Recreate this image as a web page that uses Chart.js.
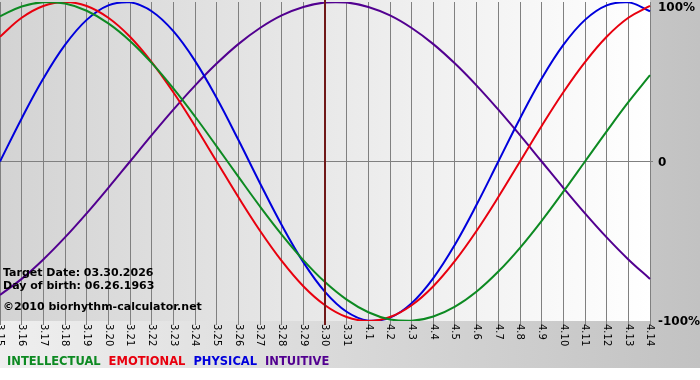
<!DOCTYPE html>
<html>
<head>
<meta charset="utf-8">
<script src="https://cdn.jsdelivr.net/npm/chart.js@4/dist/chart.umd.min.js"></script>
<style>
  body { margin: 0; background: #fff; }
  canvas { display: block; }
</style>
</head>
<body>
<canvas id="bioChart" width="700" height="380"></canvas>
<script>
// days shown on the x axis (month.day)
const days = ["3.15", "3.16", "3.17", "3.18", "3.19", "3.20", "3.21", "3.22", "3.23", "3.24",
  "3.25", "3.26", "3.27", "3.28", "3.29", "3.30", "3.31", "4.1", "4.2", "4.3", "4.4", "4.5",
  "4.6", "4.7", "4.8", "4.9", "4.10", "4.11", "4.12", "4.13", "4.14"];
const targetDay = "3.30";

// cycle values, -1 .. 1
const intellectual = [0.910, 0.972, 0.999, 0.990, 0.945, 0.866, 0.756, 0.618, 0.458, 0.282, 0.095,
  -0.095, -0.282, -0.458, -0.618, -0.756, -0.866, -0.945, -0.990, -0.999, -0.972, -0.910, -0.815,
  -0.690, -0.541, -0.372, -0.189, 0, 0.189, 0.372, 0.541];
const emotional = [0.782, 0.901, 0.975, 1, 0.975, 0.901, 0.782, 0.623, 0.434, 0.223, 0,
  -0.223, -0.434, -0.623, -0.782, -0.901, -0.975, -1, -0.975, -0.901, -0.782, -0.623, -0.434,
  -0.223, 0, 0.223, 0.434, 0.623, 0.782, 0.901, 0.975];
const physical = [0, 0.270, 0.520, 0.731, 0.888, 0.979, 0.998, 0.942, 0.817, 0.631, 0.398, 0.136,
  -0.136, -0.398, -0.631, -0.817, -0.942, -0.998, -0.979, -0.888, -0.731, -0.520, -0.270, 0,
  0.270, 0.520, 0.731, 0.888, 0.979, 0.998, 0.942];
const intuitive = [-0.837, -0.736, -0.614, -0.476, -0.325, -0.165, 0, 0.165, 0.325, 0.476, 0.614,
  0.736, 0.837, 0.916, 0.969, 0.997, 0.997, 0.969, 0.916, 0.837, 0.736, 0.614, 0.476, 0.325,
  0.165, 0, -0.165, -0.325, -0.476, -0.614, -0.736];

const yTickValues = [1, 0, -1];
const yTickLabels = ["100%", "0", "-100%"];

const infoLines = ["Target Date: 03.30.2026", "Day of birth: 06.26.1963", "\u00a92010 biorhythm-calculator.net"];

const targetIndex = days.indexOf(targetDay);

// backgrounds: grey frame + light gradient behind the plot
const backgroundPlugin = {
  id: "background",
  beforeDraw(chart) {
    const { ctx, chartArea: a, width, height } = chart;
    ctx.save();
    ctx.fillStyle = "#ffffff";
    ctx.fillRect(0, 0, width, height);
    let g = ctx.createLinearGradient(0, 0, width, 0);
    g.addColorStop(0, "#efefef");
    g.addColorStop(1, "#c2c2c2");
    ctx.fillStyle = g;
    ctx.fillRect(0, 0, width, 368);
    g = ctx.createLinearGradient(a.left, 0, a.right, 0);
    g.addColorStop(0, "#d3d3d3");
    g.addColorStop(1, "#ffffff");
    ctx.fillStyle = g;
    ctx.fillRect(a.left, 0, a.right - a.left, a.bottom);
    ctx.restore();
  }
};

// text: rotated day labels, percent labels, info block, coloured legend
const textPlugin = {
  id: "texts",
  afterDatasetsDraw(chart) {
    const { ctx, chartArea: a } = chart;
    const xs = chart.scales.x;
    const ys = chart.scales.y;
    ctx.save();

    // target day line sits on top of the curves
    const tx = xs.getPixelForTick(targetIndex);
    ctx.strokeStyle = "#701818";
    ctx.lineWidth = 2;
    ctx.beginPath();
    ctx.moveTo(tx, 0);
    ctx.lineTo(tx, a.bottom + 4);
    ctx.stroke();

    ctx.fillStyle = "#000";
    ctx.textAlign = "left";
    ctx.textBaseline = "middle";

    ctx.font = '10px "DejaVu Sans"';
    days.forEach((d, i) => {
      ctx.save();
      ctx.translate(xs.getPixelForTick(i), a.bottom + 3);
      ctx.rotate(Math.PI / 2);
      ctx.fillText(d, 0, 0);
      ctx.restore();
    });

    ctx.font = 'bold 12px "DejaVu Sans"';
    yTickValues.forEach((v, i) => {
      const py = Math.max(ys.getPixelForValue(v), 7);
      ctx.fillText(yTickLabels[i], a.right + 8, py + 1);
    });

    ctx.font = 'bold 11px "DejaVu Sans"';
    ctx.fillText(infoLines[0], 3, a.bottom - 48);
    ctx.fillText(infoLines[1], 3, a.bottom - 35);
    ctx.fillText(infoLines[2], 3, a.bottom - 14);

    ctx.font = 'bold 11.5px "DejaVu Sans"';
    let lx = 7;
    chart.data.datasets.forEach(ds => {
      ctx.fillStyle = ds.borderColor;
      ctx.fillText(ds.label, lx, 362);
      lx += ctx.measureText(ds.label).width + 8;
    });
    ctx.restore();
  }
};

const data = {
  labels: days,
  datasets: [
    { label: "INTELLECTUAL", data: intellectual, borderColor: "#0d8a22" },
    { label: "EMOTIONAL", data: emotional, borderColor: "#e8000e" },
    { label: "PHYSICAL", data: physical, borderColor: "#0000dc" },
    { label: "INTUITIVE", data: intuitive, borderColor: "#520090" }
  ]
};

const options = {
  responsive: false,
  animation: false,
  layout: { padding: { top: 2, left: 0, right: 0, bottom: 0 } },
  plugins: { legend: { display: false }, tooltip: { enabled: false } },
  elements: {
    point: { radius: 0 },
    line: { borderWidth: 2, tension: 0.4, fill: false }
  },
  scales: {
    x: {
      offset: false,
      border: { display: false },
      grid: {
        color: c => c.index === targetIndex ? "transparent" : "#808080",
        tickLength: 4
      },
      ticks: { display: false, autoSkip: false },
      afterFit: s => { s.height = 59; }
    },
    y: {
      position: "right",
      min: -1,
      max: 1,
      border: { display: false },
      grid: {
        color: c => c.tick.value === 0 ? "#808080" : "transparent",
        tickLength: 3
      },
      ticks: { display: false, stepSize: 1 },
      afterFit: s => { s.width = 50; }
    }
  }
};

const canvas = document.getElementById("bioChart");
const chart = new Chart(canvas, {
  type: "line",
  data: data,
  options: options,
  plugins: [backgroundPlugin, textPlugin]
});
</script>
</body>
</html>
